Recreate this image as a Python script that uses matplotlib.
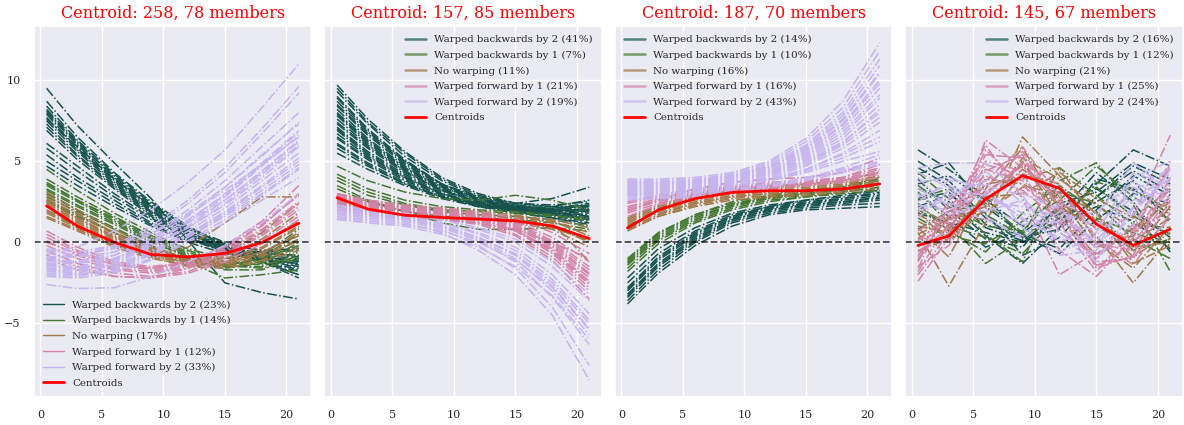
import matplotlib
matplotlib.use('Agg')
import matplotlib.pyplot as plt
import seaborn as sns
import numpy as np
from matplotlib.lines import Line2D

sns.set_theme(style='darkgrid', font='serif')

X = [0.5, 3, 6, 9, 12, 15, 18, 21]

GROUP_NAMES = ['Warped backwards by 2', 'Warped backwards by 1', 'No warping',
               'Warped forward by 1', 'Warped forward by 2']
CENTROID_IDS  = [258, 157, 187, 145]
MEMBER_COUNTS = [78, 85, 70, 67]
PCTS = [[23, 14, 17, 12, 33],
        [41, 7, 11, 21, 19],
        [14, 10, 16, 16, 43],
        [16, 12, 21, 25, 24]]

# ---- panel 1 ----
P1_CENTROID = [2.25, 1.0, 0.0, -0.75, -0.9, -0.68, -0.02, 1.18]
P1_BACK2 = [
    [9.5, 7.2, 4.9, 2.7, 0.1, -2.5, -3.1, -3.5],
    [8.7, 6.5, 4.3, 2.5, 1.0, -0.2, -1.2, -2.2],
    [8.4, 6.3, 4.2, 2.4, 0.9, -0.3, -1.1, -1.7],
    [8.2, 6.2, 4.0, 2.2, 0.7, -0.4, -1.2, -2.0],
    [8.0, 6.0, 3.9, 2.1, 0.6, -0.5, -1.1, -1.3],
    [7.9, 5.8, 3.8, 2.0, 0.5, -0.3, -0.9, -1.2],
    [7.7, 5.7, 3.7, 1.9, 0.5, -0.4, -1.0, -1.5],
    [7.5, 5.6, 3.6, 1.9, 0.6, -0.2, -0.8, -1.0],
    [7.3, 5.4, 3.5, 1.8, 0.5, -0.3, -0.9, -1.4],
    [7.1, 5.3, 3.4, 1.7, 0.4, -0.4, -0.7, -0.8],
    [6.9, 5.1, 3.3, 1.6, 0.3, -0.5, -1.0, -1.6],
    [6.1, 4.7, 3.0, 1.5, 0.3, -0.6, -1.2, -1.8],
    [5.8, 4.4, 2.8, 1.4, 0.3, -0.5, -0.9, -1.1],
    [5.4, 4.0, 2.6, 1.2, 0.2, -0.6, -1.2, -2.0],
    [5.0, 3.8, 2.4, 1.1, 0.1, -0.4, -0.6, -0.5],
    [4.7, 3.5, 2.2, 1.0, 0.0, -0.7, -1.1, -1.3],
    [7.6, 5.9, 3.9, 2.2, 0.8, -0.1, -0.5, -0.4],
    [8.1, 6.1, 4.1, 2.3, 0.9, 0.0, -0.6, -0.9],
]
P1_BACK1 = [
    [4.5, 3.2, 1.8, 0.6, -0.5, -1.2, -1.4, -0.9],
    [3.9, 2.8, 1.6, 0.4, -0.6, -1.4, -1.6, -1.0],
    [3.7, 2.6, 1.4, 0.3, -0.7, -1.5, -1.5, -0.6],
    [3.5, 2.5, 1.3, 0.2, -0.8, -1.5, -1.2, -0.3],
    [3.3, 2.3, 1.2, 0.1, -0.9, -1.7, -1.7, -0.8],
    [3.2, 2.2, 1.1, 0.0, -0.9, -1.4, -1.1, 0.2],
    [3.0, 2.0, 0.9, -0.2, -1.1, -1.6, -1.3, 0.0],
    [2.8, 1.9, 0.8, -0.3, -1.2, -2.2, -2.0, -1.7],
    [2.6, 1.7, 0.6, -0.4, -1.2, -1.5, -0.9, 0.5],
    [3.6, 2.6, 1.5, 0.4, -0.4, -1.0, -0.8, 0.8],
    [2.5, 1.6, 0.6, -0.3, -1.0, -1.4, -1.0, -0.2],
]
P1_NONE = [
    [3.1, 2.0, 0.8, -0.3, -1.0, -1.2, -0.6, 0.5],
    [2.9, 1.8, 0.6, -0.4, -1.1, -1.3, -0.8, 0.2],
    [2.7, 1.7, 0.5, -0.5, -1.2, -1.4, -0.9, 0.1],
    [2.6, 1.5, 0.4, -0.6, -1.3, -1.5, -1.1, -0.3],
    [2.5, 1.5, 0.3, -0.6, -1.1, -1.0, -0.3, 1.0],
    [2.3, 1.3, 0.2, -0.7, -1.3, -1.2, -0.4, 0.9],
    [2.2, 1.2, 0.1, -0.8, -1.4, -1.4, -0.7, 0.6],
    [2.0, 1.1, 0.0, -0.8, -1.2, -0.9, 0.2, 1.8],
    [1.9, 1.0, -0.1, -0.9, -1.5, -1.6, -1.2, -0.5],
    [1.8, 0.9, -0.2, -0.9, -1.2, -0.7, 0.6, 2.4],
    [1.6, 0.8, -0.2, -0.8, -0.3, 1.2, 2.8, 2.8],
    [2.4, 1.4, 0.3, -0.5, -0.9, -0.8, 0.0, 1.3],
    [1.5, 0.7, -0.3, -1.0, -1.4, -1.3, -0.6, 0.4],
]
P1_FWD1 = [
    [0.7, -0.3, -1.2, -1.5, -1.2, -0.2, 1.3, 3.5],
    [0.5, -0.5, -1.3, -1.6, -1.3, -0.4, 1.0, 3.0],
    [0.3, -0.6, -1.4, -1.7, -1.4, -0.5, 0.8, 2.5],
    [0.1, -0.8, -1.6, -1.8, -1.5, -0.7, 0.5, 2.2],
    [-0.2, -1.0, -1.7, -1.9, -1.6, -0.8, 0.4, 2.0],
    [-0.5, -1.3, -1.9, -2.1, -1.8, -1.0, 0.1, 1.6],
    [-0.8, -1.5, -2.1, -2.2, -1.9, -1.2, -0.1, 1.4],
    [-1.0, -1.7, -2.1, -2.2, -1.6, -0.6, 0.7, 2.4],
    [0.0, -0.7, -1.4, -1.6, -1.2, -0.3, 1.1, 2.9],
]
P1_FWD2 = [
    [-0.6, -0.3, 0.7, 2.0, 3.7, 5.7, 8.3, 11.0],
    [-0.9, -0.8, -0.2, 1.0, 2.6, 4.6, 7.0, 9.6],
    [-1.0, -0.9, -0.3, 0.8, 2.4, 4.3, 6.7, 9.2],
    [-1.2, -1.2, -0.6, 0.5, 2.0, 3.8, 5.9, 8.0],
    [-1.3, -1.3, -0.8, 0.3, 1.6, 3.4, 5.4, 7.3],
    [-1.4, -1.5, -1.0, 0.0, 1.3, 3.0, 4.9, 6.9],
    [-1.5, -1.6, -1.1, -0.1, 1.2, 2.8, 4.7, 6.6],
    [-1.6, -1.7, -1.2, -0.2, 1.0, 2.6, 4.4, 6.3],
    [-1.7, -1.8, -1.3, -0.3, 0.9, 2.4, 4.2, 6.0],
    [-1.8, -1.9, -1.4, -0.5, 0.7, 2.1, 3.8, 5.5],
    [-1.9, -2.0, -1.6, -0.7, 0.5, 1.8, 3.4, 5.0],
    [-2.0, -2.1, -1.7, -0.8, 0.3, 1.6, 3.0, 4.6],
    [-2.6, -2.85, -2.8, -2.1, -1.2, -0.2, 1.2, 3.0],
    [-0.4, -0.6, -0.2, 0.6, 1.8, 3.4, 5.3, 7.4],
    [-0.7, -0.9, -0.6, 0.2, 1.4, 2.9, 4.8, 6.8],
    [-1.1, -1.3, -1.0, -0.2, 0.9, 2.3, 4.0, 5.9],
    [-1.3, -1.6, -1.4, -0.6, 0.5, 1.9, 3.5, 5.2],
    [-1.6, -2.0, -1.8, -1.0, 0.1, 1.4, 2.9, 4.5],
    [-2.1, -2.2, -1.9, -1.1, 0.0, 1.2, 2.6, 4.0],
    [-0.5, -0.8, -0.4, 0.5, 1.7, 3.2, 4.8, 6.5],
    [-1.0, -1.2, -0.8, 0.1, 1.2, 2.6, 4.3, 6.2],
    [-1.4, -1.7, -1.5, -0.7, 0.4, 1.7, 3.2, 4.8],
]

# ---- panel 2 ----
P2_CENTROID = [2.75, 2.05, 1.67, 1.53, 1.43, 1.32, 1.01, 0.23]
P2_BACK2 = [
    [9.7, 7.6, 5.6, 4.0, 3.0, 2.4, 2.2, 2.6],
    [9.3, 7.3, 5.3, 3.8, 2.8, 2.3, 2.0, 1.9],
    [9.0, 7.0, 5.1, 3.6, 2.7, 2.2, 2.1, 2.3],
    [8.7, 6.8, 5.0, 3.6, 2.7, 2.2, 1.9, 1.6],
    [8.4, 6.6, 4.8, 3.5, 2.6, 2.2, 2.0, 2.0],
    [8.2, 6.4, 4.7, 3.4, 2.6, 2.1, 1.8, 1.5],
    [7.9, 6.2, 4.6, 3.3, 2.5, 2.1, 1.9, 1.8],
    [7.6, 6.0, 4.4, 3.2, 2.5, 2.0, 1.7, 1.4],
    [7.3, 5.8, 4.3, 3.2, 2.4, 2.0, 1.8, 1.7],
    [7.0, 5.5, 4.1, 3.0, 2.3, 2.0, 1.9, 2.1],
    [6.7, 5.3, 4.0, 3.0, 2.4, 2.1, 2.0, 2.2],
    [6.4, 5.1, 3.8, 2.9, 2.3, 2.0, 1.8, 1.6],
    [6.1, 4.9, 3.7, 2.8, 2.3, 2.0, 1.9, 1.9],
    [5.8, 4.7, 3.6, 2.8, 2.3, 2.1, 2.0, 2.0],
    [5.5, 4.5, 3.5, 2.7, 2.2, 2.0, 2.0, 2.3],
    [8.9, 6.9, 5.0, 3.6, 2.8, 2.4, 2.7, 3.4],
    [7.8, 6.1, 4.5, 3.3, 2.4, 1.9, 1.5, 1.2],
    [7.1, 5.6, 4.2, 3.1, 2.3, 1.9, 1.6, 1.3],
    [6.5, 5.2, 3.9, 2.9, 2.2, 1.8, 1.5, 1.1],
    [8.0, 6.3, 4.6, 3.4, 2.6, 2.2, 2.1, 2.4],
    [6.9, 5.4, 4.0, 3.0, 2.3, 2.0, 1.7, 1.5],
    [9.5, 7.4, 5.5, 3.9, 2.9, 2.4, 2.3, 2.5],
    [6.0, 4.8, 3.6, 2.8, 2.2, 1.9, 1.7, 1.4],
    [8.5, 6.7, 4.9, 3.5, 2.7, 2.3, 2.2, 2.2],
    [7.4, 5.9, 4.4, 3.2, 2.5, 2.1, 1.8, 1.7],
]
P2_BACK1 = [
    [4.7, 3.8, 3.1, 2.7, 2.6, 2.9, 2.6, 2.0],
    [4.2, 3.3, 2.6, 2.2, 2.0, 1.9, 1.7, 1.3],
    [3.8, 2.9, 2.3, 1.9, 1.7, 1.6, 1.4, 1.0],
    [3.5, 2.6, 1.9, 1.2, 0.8, 0.8, 0.9, 0.7],
    [3.3, 2.5, 1.9, 1.6, 1.5, 1.4, 1.2, 0.8],
    [4.0, 3.1, 2.4, 2.0, 1.9, 1.8, 1.6, 1.5],
]
P2_NONE = [
    [3.0, 2.6, 2.3, 2.1, 1.9, 1.7, 1.2, -1.2],
    [2.8, 2.4, 2.1, 1.9, 1.7, 1.5, 1.0, 0.0],
    [2.6, 2.2, 2.0, 1.8, 1.6, 1.4, 0.9, 0.2],
    [2.5, 2.1, 1.9, 1.7, 1.6, 1.5, 1.3, 0.6],
    [2.9, 2.5, 2.2, 2.0, 1.8, 1.6, 1.3, 0.4],
    [2.4, 2.0, 1.8, 1.6, 1.4, 1.2, 0.8, -0.3],
    [2.7, 2.3, 2.0, 1.8, 1.7, 1.6, 1.4, 0.9],
    [2.2, 1.9, 1.7, 1.6, 1.5, 1.3, 0.9, 0.1],
]
P2_FWD1 = [
    [3.0, 2.6, 2.3, 2.1, 1.9, 1.5, 0.6, -0.7],
    [2.9, 2.5, 2.2, 2.0, 1.8, 1.3, 0.3, -1.2],
    [2.8, 2.4, 2.1, 1.9, 1.7, 1.2, 0.1, -1.5],
    [2.7, 2.3, 2.0, 1.8, 1.6, 1.0, -0.1, -1.9],
    [2.6, 2.2, 1.9, 1.7, 1.5, 0.9, -0.3, -2.2],
    [2.5, 2.1, 1.8, 1.6, 1.4, 0.8, -0.5, -2.5],
    [2.4, 2.0, 1.7, 1.5, 1.3, 0.7, -0.7, -2.8],
    [2.3, 1.9, 1.7, 1.5, 1.2, 0.5, -0.9, -3.0],
    [2.2, 1.9, 1.6, 1.4, 1.1, 0.4, -1.1, -3.5],
    [2.1, 1.8, 1.6, 1.4, 1.2, 0.8, 0.0, -1.0],
    [2.9, 2.4, 2.1, 1.9, 1.6, 1.1, 0.0, -1.7],
    [2.6, 2.3, 2.0, 1.8, 1.5, 1.0, -0.2, -2.0],
    [2.0, 1.7, 1.5, 1.4, 1.2, 0.7, -0.4, -2.4],
    [2.8, 2.3, 2.0, 1.7, 1.4, 0.8, -0.6, -2.6],
]
P2_FWD2 = [
    [1.6, 1.4, 1.2, 0.6, -0.5, -2.0, -4.5, -8.5],
    [1.7, 1.5, 1.3, 0.8, -0.2, -1.6, -4.0, -7.6],
    [1.8, 1.6, 1.4, 1.0, 0.2, -1.0, -3.0, -5.7],
    [1.9, 1.7, 1.5, 1.1, 0.3, -0.8, -2.7, -5.3],
    [2.0, 1.8, 1.6, 1.2, 0.5, -0.5, -2.3, -4.8],
    [2.1, 1.9, 1.6, 1.2, 0.6, -0.3, -2.0, -4.4],
    [1.5, 1.3, 1.1, 0.7, 0.0, -1.1, -2.8, -5.4],
    [2.2, 2.0, 1.7, 1.4, 0.8, 0.0, -1.5, -3.6],
    [1.4, 1.2, 1.0, 0.5, -0.3, -1.5, -3.3, -6.0],
    [2.3, 2.0, 1.8, 1.4, 0.9, 0.2, -1.2, -3.2],
    [1.8, 1.6, 1.4, 0.9, 0.1, -1.2, -3.4, -6.3],
    [2.0, 1.8, 1.5, 1.0, 0.3, -0.7, -2.5, -5.0],
]

# ---- panel 3 ----
P3_CENTROID = [0.89, 2.0, 2.7, 3.08, 3.18, 3.18, 3.29, 3.6]
P3_BACK2 = [
    [-3.8, -1.9, -0.2, 1.0, 1.7, 2.0, 2.1, 2.2],
    [-3.6, -1.7, 0.0, 1.2, 1.8, 2.1, 2.3, 2.4],
    [-3.4, -1.5, 0.1, 1.3, 1.9, 2.2, 2.4, 2.6],
    [-3.2, -1.3, 0.3, 1.4, 2.0, 2.3, 2.5, 2.8],
    [-3.0, -1.1, 0.4, 1.5, 2.1, 2.4, 2.6, 2.9],
    [-2.8, -0.9, 0.6, 1.6, 2.2, 2.5, 2.7, 3.0],
    [-2.5, -0.7, 0.7, 1.7, 2.2, 2.6, 2.8, 3.2],
    [-2.2, -0.4, 0.9, 1.8, 2.3, 2.6, 2.9, 3.3],
    [-3.3, -1.4, 0.2, 1.4, 2.0, 2.3, 2.5, 2.7],
    [-2.9, -1.0, 0.5, 1.6, 2.1, 2.4, 2.7, 3.1],
]
P3_BACK1 = [
    [-1.0, 0.6, 1.7, 2.4, 2.8, 3.0, 3.2, 3.6],
    [-1.2, 0.4, 1.6, 2.3, 2.7, 2.9, 3.1, 3.4],
    [-1.4, 0.2, 1.4, 2.2, 2.7, 3.0, 3.3, 3.8],
    [-1.6, 0.1, 1.3, 2.1, 2.6, 2.8, 3.0, 3.2],
    [-1.8, -0.1, 1.2, 2.0, 2.5, 2.8, 3.1, 3.6],
    [-1.3, 0.3, 1.5, 2.3, 2.8, 3.1, 3.4, 4.0],
    [-1.1, 0.5, 1.7, 2.5, 2.9, 3.2, 3.4, 3.9],
]
P3_NONE = [
    [1.5, 2.3, 2.9, 3.2, 3.4, 3.5, 3.7, 4.1],
    [1.3, 2.1, 2.8, 3.1, 3.3, 3.4, 3.6, 4.0],
    [1.2, 2.0, 2.6, 3.0, 3.2, 3.3, 3.5, 3.8],
    [1.0, 1.9, 2.5, 2.9, 3.1, 3.2, 3.4, 3.7],
    [0.9, 1.7, 2.4, 2.8, 3.0, 3.1, 3.3, 3.6],
    [0.7, 1.6, 2.3, 2.7, 2.9, 3.0, 3.2, 3.5],
    [1.4, 2.2, 2.8, 3.2, 3.5, 3.6, 3.8, 4.3],
    [0.8, 1.6, 2.2, 2.6, 2.8, 2.9, 3.1, 3.3],
    [1.1, 1.8, 2.4, 2.8, 3.0, 3.2, 3.5, 4.0],
]
P3_FWD1 = [
    [2.5, 2.9, 3.3, 3.5, 3.7, 3.8, 4.0, 4.6],
    [2.2, 2.7, 3.1, 3.4, 3.6, 3.7, 3.9, 4.3],
    [2.0, 2.5, 3.0, 3.3, 3.5, 3.6, 3.8, 4.2],
    [1.8, 2.4, 2.9, 3.2, 3.4, 3.5, 3.7, 4.0],
    [1.6, 2.3, 2.8, 3.1, 3.3, 3.5, 3.8, 4.4],
    [1.9, 2.6, 3.3, 3.7, 3.9, 4.0, 4.3, 5.2],
    [2.4, 2.8, 3.2, 3.4, 3.5, 3.7, 4.0, 4.8],
    [2.1, 2.6, 3.0, 3.3, 3.5, 3.6, 3.9, 4.5],
]
P3_FWD2 = [
    [3.9, 3.9, 4.0, 4.3, 5.0, 6.4, 8.7, 12.3],
    [3.8, 3.8, 3.9, 4.2, 4.9, 6.2, 8.3, 11.8],
    [3.7, 3.7, 3.8, 4.1, 4.7, 5.9, 7.8, 10.9],
    [3.6, 3.6, 3.7, 4.0, 4.6, 5.6, 7.3, 10.0],
    [3.5, 3.5, 3.6, 3.9, 4.4, 5.3, 6.8, 9.1],
    [3.4, 3.4, 3.5, 3.8, 4.3, 5.2, 6.6, 8.9],
    [3.3, 3.3, 3.4, 3.7, 4.2, 5.0, 6.2, 8.0],
    [3.2, 3.2, 3.3, 3.6, 4.0, 4.7, 5.8, 7.4],
    [3.1, 3.1, 3.2, 3.5, 3.9, 4.5, 5.4, 6.5],
    [3.0, 3.0, 3.1, 3.4, 3.8, 4.3, 5.0, 5.6],
    [2.9, 2.9, 3.0, 3.3, 3.6, 4.0, 4.5, 5.0],
    [2.8, 2.8, 2.9, 3.2, 3.5, 3.9, 4.4, 4.9],
    [2.7, 2.7, 2.8, 3.1, 3.4, 3.8, 4.3, 4.8],
    [3.8, 3.7, 3.8, 4.1, 4.8, 6.0, 8.0, 11.3],
    [3.6, 3.6, 3.8, 4.1, 4.6, 5.7, 7.5, 10.4],
    [3.4, 3.5, 3.6, 3.9, 4.4, 5.4, 7.0, 9.5],
    [3.3, 3.4, 3.5, 3.8, 4.3, 5.1, 6.4, 8.5],
    [3.1, 3.2, 3.3, 3.6, 4.1, 4.8, 6.0, 7.7],
    [2.9, 3.0, 3.1, 3.4, 3.8, 4.4, 5.2, 6.2],
    [2.6, 2.7, 2.8, 3.1, 3.4, 3.9, 4.6, 5.4],
    [3.5, 3.6, 3.7, 4.0, 4.5, 5.5, 7.2, 9.8],
    [3.2, 3.3, 3.4, 3.7, 4.2, 4.9, 6.1, 8.2],
    [3.0, 3.1, 3.2, 3.5, 3.9, 4.5, 5.5, 6.9],
    [3.7, 3.6, 3.7, 4.0, 4.6, 5.8, 7.6, 10.5],
]

# ---- panel 4 ----
P4_CENTROID = [-0.19, 0.39, 2.67, 4.11, 3.33, 1.12, -0.19, 0.81]
P4_BACK2 = [
    [5.7, 4.5, 2.8, 0.3, 0.8, 2.8, 4.7, 3.6],
    [5.0, 3.8, 1.5, 0.0, 1.3, 3.6, 5.7, 4.7],
    [4.2, 4.9, 2.2, 0.5, -0.4, 2.0, 4.1, 2.9],
    [3.3, 2.5, 0.4, -1.3, 0.9, 3.9, 3.3, 1.7],
    [2.6, 3.1, 0.9, 0.1, 1.8, 4.3, 2.5, -0.6],
    [3.9, 2.0, 0.2, -0.3, 2.4, 3.1, 4.9, 3.9],
    [1.8, 1.2, 0.6, 0.0, 1.5, 2.5, 3.8, 1.2],
    [4.6, 3.5, 1.1, 0.4, -0.7, 1.4, 3.0, 2.4],
    [3.0, 1.6, -0.3, 0.6, 2.1, 3.3, 1.9, 0.3],
    [2.2, 2.9, 1.8, -0.8, 0.3, 2.8, 4.4, 3.1],
    [3.6, 4.1, 2.6, 1.0, 1.1, 2.2, 1.3, -0.4],
]
P4_BACK1 = [
    [4.3, 2.7, 0.5, -1.2, 3.8, 4.9, 2.3, -1.8],
    [3.1, 1.2, -1.3, 0.2, 2.0, 1.5, 0.6, -0.2],
    [2.7, 3.3, 1.7, 0.4, 4.6, 2.9, 1.1, 0.9],
    [1.5, 0.4, -0.1, 1.3, 2.6, 4.7, 2.8, 1.4],
    [2.0, 1.0, 0.3, -0.7, 1.7, 3.4, 1.6, 0.5],
    [3.5, 2.2, 1.0, 0.7, 3.1, 2.4, 0.2, -1.0],
    [0.8, 1.9, 2.4, 0.6, 1.2, 3.7, 3.2, 2.0],
    [2.4, 0.7, -0.6, 1.8, 3.5, 1.9, -0.5, 0.2],
]
P4_NONE = [
    [0.6, -2.7, 1.2, 6.5, 4.1, 1.7, -0.6, 2.2],
    [1.3, 0.3, 3.0, 4.8, 2.6, 0.4, -2.5, 0.3],
    [0.5, 1.4, 2.2, 5.2, 3.9, 2.3, 0.8, 1.9],
    [1.7, 0.8, 3.6, 3.9, 4.6, 1.2, -0.9, 0.6],
    [-0.5, 0.2, 2.5, 4.5, 2.8, -0.3, 0.4, 2.8],
    [2.2, 1.1, 1.9, 3.4, 3.1, 1.8, -1.3, -0.2],
    [0.9, -0.9, 3.3, 5.8, 2.2, 0.9, 0.1, 1.5],
    [1.0, 0.6, 2.8, 3.0, 4.3, 2.7, 1.5, 3.3],
    [-1.1, 1.7, 1.4, 4.2, 3.6, 0.0, -1.6, 1.0],
    [1.9, 0.0, 2.1, 5.0, 1.6, -0.8, 0.9, 2.5],
    [0.2, 1.5, 3.9, 3.6, 2.4, 1.4, -0.3, 0.0],
]
P4_FWD1 = [
    [-2.4, 0.3, 6.3, 4.6, 3.0, 0.8, 1.6, 6.6],
    [-1.8, 1.2, 5.4, 5.2, 2.5, -1.6, -0.8, 4.0],
    [-1.2, 2.1, 4.5, 3.8, 1.9, -0.4, 0.5, 3.3],
    [-0.6, 0.9, 3.8, 5.9, 2.8, -1.2, -1.0, 2.6],
    [0.1, 1.6, 5.0, 4.4, -0.5, -2.1, 0.3, 3.9],
    [-1.5, -0.2, 2.9, 4.9, 3.5, 0.2, -1.4, 1.8],
    [-0.9, 2.6, 4.1, 3.2, 1.4, -1.0, 1.1, 4.6],
    [0.7, 1.9, 3.4, 5.6, 2.0, -0.1, -0.5, 3.0],
    [-2.0, 0.6, 4.8, 4.1, 1.2, -1.8, 0.8, 5.0],
    [-0.3, 1.4, 6.0, 2.7, -2.0, -0.6, 0.0, 2.3],
    [-1.6, 2.4, 3.1, 4.7, 2.3, -1.4, -0.9, 1.5],
    [0.3, 0.0, 4.4, 5.4, 0.6, -0.7, 0.6, 4.8],
    [-0.8, 1.0, 5.7, 3.5, 1.7, -1.5, -0.2, 3.6],
]
P4_FWD2 = [
    [4.6, 4.9, 4.9, 3.0, 2.1, -0.2, 1.0, 4.5],
    [3.7, 4.0, 3.2, 1.4, 0.3, -1.2, 2.1, 4.0],
    [2.8, 3.5, 2.5, 2.2, 1.6, 0.1, 2.6, 3.2],
    [2.1, 2.9, 3.8, 0.9, -0.8, -0.5, 4.0, 5.0],
    [3.3, 2.4, 1.9, 2.6, 1.1, 0.8, 3.4, 2.4],
    [1.5, 3.2, 2.9, 1.8, 0.6, -1.0, 1.8, 4.3],
    [4.0, 2.1, 1.4, 0.4, 2.4, 1.6, 4.9, 3.1],
    [2.5, 3.8, 3.5, 2.9, -0.6, 0.4, 2.9, 3.8],
    [3.0, 1.7, 2.3, 1.1, 1.3, 1.9, 3.7, 2.7],
    [1.9, 2.7, 4.4, 2.4, 0.8, -0.3, 2.2, 4.7],
    [4.3, 3.4, 1.6, 0.2, 1.9, 1.0, 3.1, 4.6],
    [2.3, 2.0, 3.0, 1.5, 0.1, 0.6, 4.3, 3.5],
]

PANELS = [
    ([P1_BACK2, P1_BACK1, P1_NONE, P1_FWD1, P1_FWD2], P1_CENTROID),
    ([P2_BACK2, P2_BACK1, P2_NONE, P2_FWD1, P2_FWD2], P2_CENTROID),
    ([P3_BACK2, P3_BACK1, P3_NONE, P3_FWD1, P3_FWD2], P3_CENTROID),
    ([P4_BACK2, P4_BACK1, P4_NONE, P4_FWD1, P4_FWD2], P4_CENTROID),
]
LEGEND_LOCS = ['lower left', 'upper right', 'upper left', 'upper right']

# cubehelix shades, dark teal -> lavender
COLORS = plt.cm.cubehelix([0.25, 0.375, 0.5, 0.625, 0.75])

fig, axes = plt.subplots(1, 4, figsize=(11.84, 4.25), dpi=100, sharey=True)

for k, (ax, (groups, centroid)) in enumerate(zip(axes, PANELS)):
    for g, members in enumerate(groups):
        for m in members:
            ax.plot(X, m, ls='-.', lw=1.1, color=COLORS[g])
    ax.plot(X, centroid, color='red', lw=2)
    ax.axhline(0, color='black', ls='--', lw=1.3, alpha=0.7)

    handles = []
    for g in range(5):
        if k == 0:
            handles.append(Line2D([], [], color=COLORS[g], lw=1.0))
        else:
            handles.append(Line2D([], [], color=COLORS[g], lw=1.8, alpha=0.7))
    handles.append(Line2D([], [], color='red', lw=2))
    labels = [f'{GROUP_NAMES[g]} ({PCTS[k][g]}%)' for g in range(5)] + ['Centroids']
    ax.legend(handles, labels, loc=LEGEND_LOCS[k], fontsize=7.4, frameon=False,
              labelspacing=0.62)

    ax.set_title(f'Centroid: {CENTROID_IDS[k]}, {MEMBER_COUNTS[k]} members',
                 color='red', fontsize=11.5)
    ax.tick_params(labelsize=8)
    ax.set_xticks([0, 5, 10, 15, 20])

plt.subplots_adjust(left=0.0287, right=0.999, top=0.9388, bottom=0.0659, wspace=0.047)
fig.savefig('out.png', dpi=100)
